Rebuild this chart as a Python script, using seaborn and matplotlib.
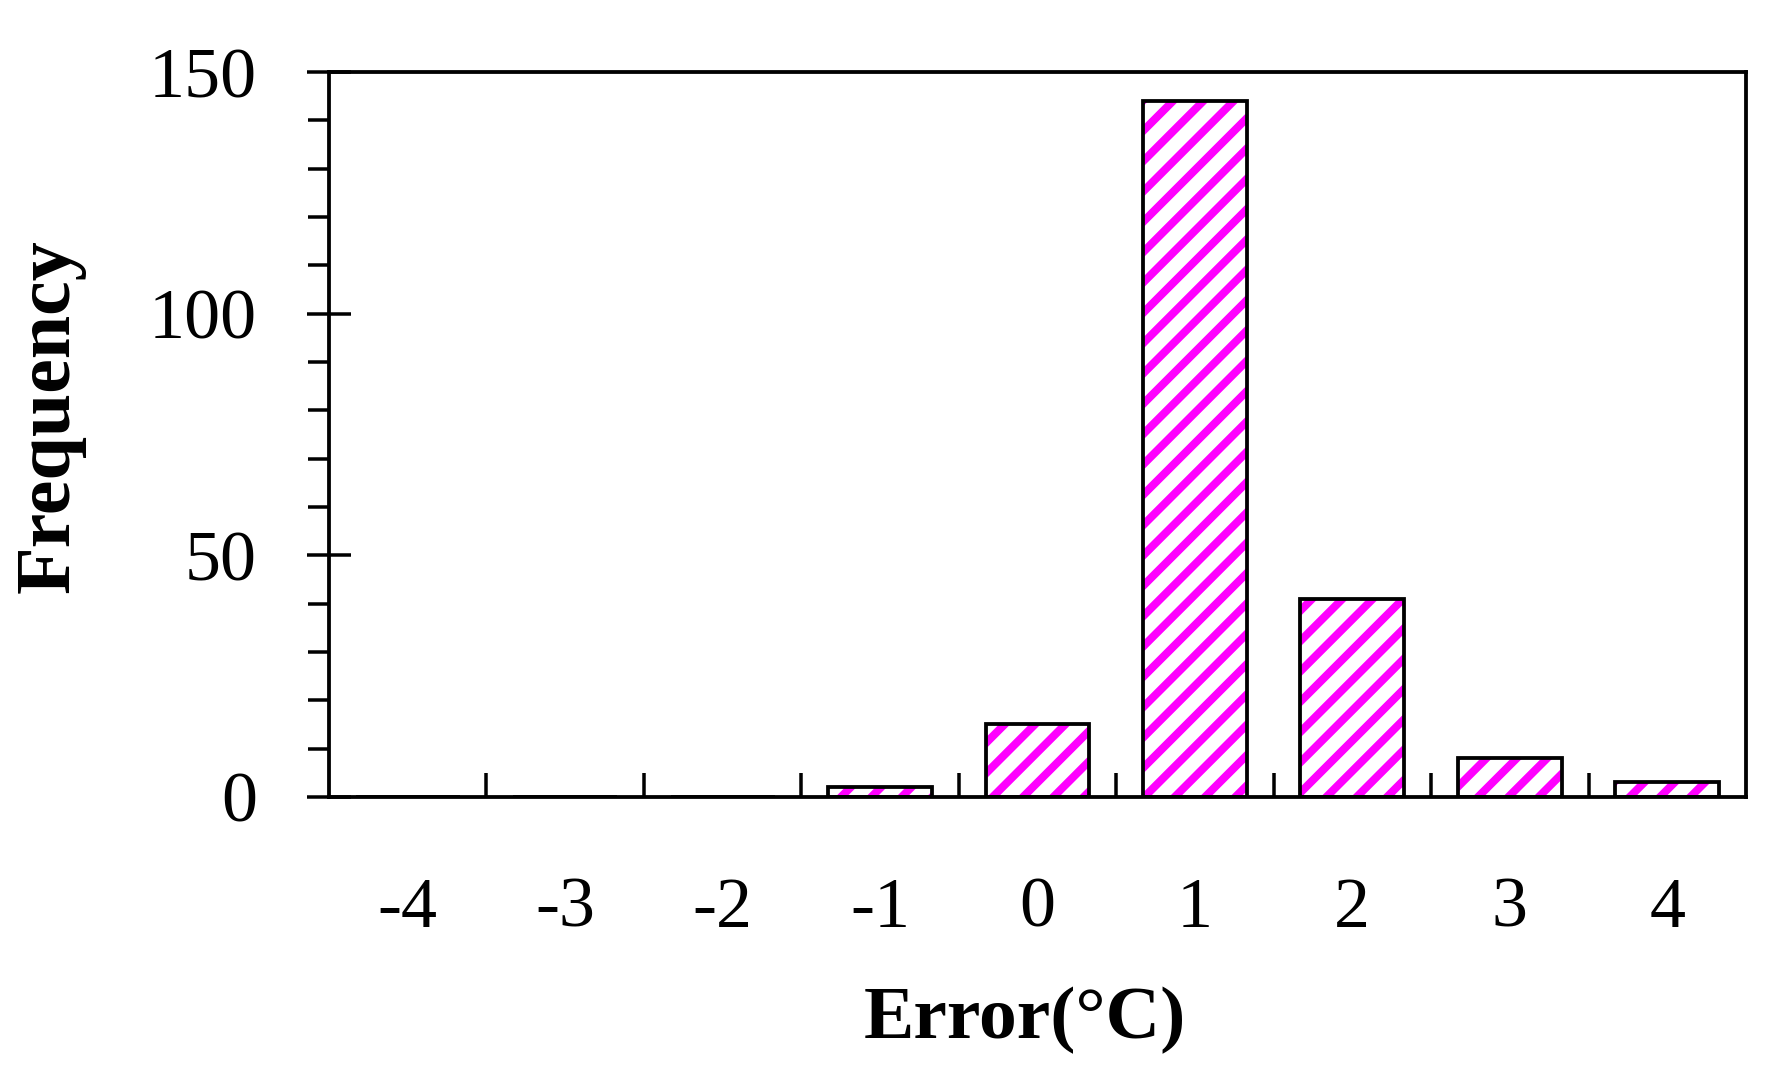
from matplotlib import pyplot as plt
from matplotlib.ticker import MultipleLocator, FixedLocator
import seaborn as sns

errors = ['-4', '-3', '-2', '-1', '0', '1', '2', '3', '4']
frequency = [0, 0, 0, 2, 15, 144, 41, 8, 3]

# dpi also sets the hatch spacing (6 lines per inch for '//')
DPI = 182


def px(p):
    # pixels -> points
    return p * 72.0 / DPI


sns.set_style('ticks')
plt.rcParams['font.family'] = ['Liberation Serif', 'DejaVu Serif']
plt.rcParams['hatch.linewidth'] = px(8)
plt.rcParams['text.color'] = 'black'
plt.rcParams['axes.labelcolor'] = 'black'
plt.rcParams['xtick.labelcolor'] = 'black'
plt.rcParams['ytick.labelcolor'] = 'black'

fig = plt.figure(figsize=(1772 / DPI, 1083 / DPI), dpi=DPI)
ax = fig.add_axes([0.1857, 0.2641, 0.7996, 0.6694])

# hatched fill (hatch takes the edge colour, so draw outline separately)
sns.barplot(x=errors, y=frequency, order=errors, color='white', edgecolor='#ff00ff',
            linewidth=0, hatch='//', width=0.66, errorbar=None, ax=ax)
sns.barplot(x=errors, y=frequency, order=errors, fill=False, color='black',
            linewidth=px(3.8), width=0.66, errorbar=None, ax=ax)

ax.set_xlim(-0.5, len(errors) - 0.5)
ax.set_ylim(0, 150)

for side in ['left', 'right', 'top', 'bottom']:
    ax.spines[side].set_visible(True)
    ax.spines[side].set_linewidth(px(3.8))
    ax.spines[side].set_color('black')

ax.yaxis.set_major_locator(MultipleLocator(50))
ax.yaxis.set_minor_locator(MultipleLocator(10))
ax.tick_params(axis='y', which='major', direction='inout', length=px(44), width=px(3.5),
               color='black', pad=px(50), labelsize=px(72))
ax.tick_params(axis='y', which='minor', direction='out', length=px(21), width=px(3.5),
               color='black')

ax.xaxis.set_minor_locator(FixedLocator([i + 0.5 for i in range(len(errors) - 1)]))
ax.tick_params(axis='x', which='major', length=0, pad=px(80), labelsize=px(72))
ax.tick_params(axis='x', which='minor', direction='in', length=px(23.6), width=px(3.5),
               color='black')

ax.set_xlabel('Error(°C)', fontsize=px(75.5), fontweight='bold')
ax.set_ylabel('Frequency', fontsize=px(78), fontweight='bold')
ax.xaxis.set_label_coords(0.491, -0.308)
ax.xaxis.label.set_va('center')
ax.yaxis.set_label_coords(-0.197, 0.526)
ax.yaxis.label.set_va('center')

plt.savefig('out.png', dpi=DPI)
plt.close()
